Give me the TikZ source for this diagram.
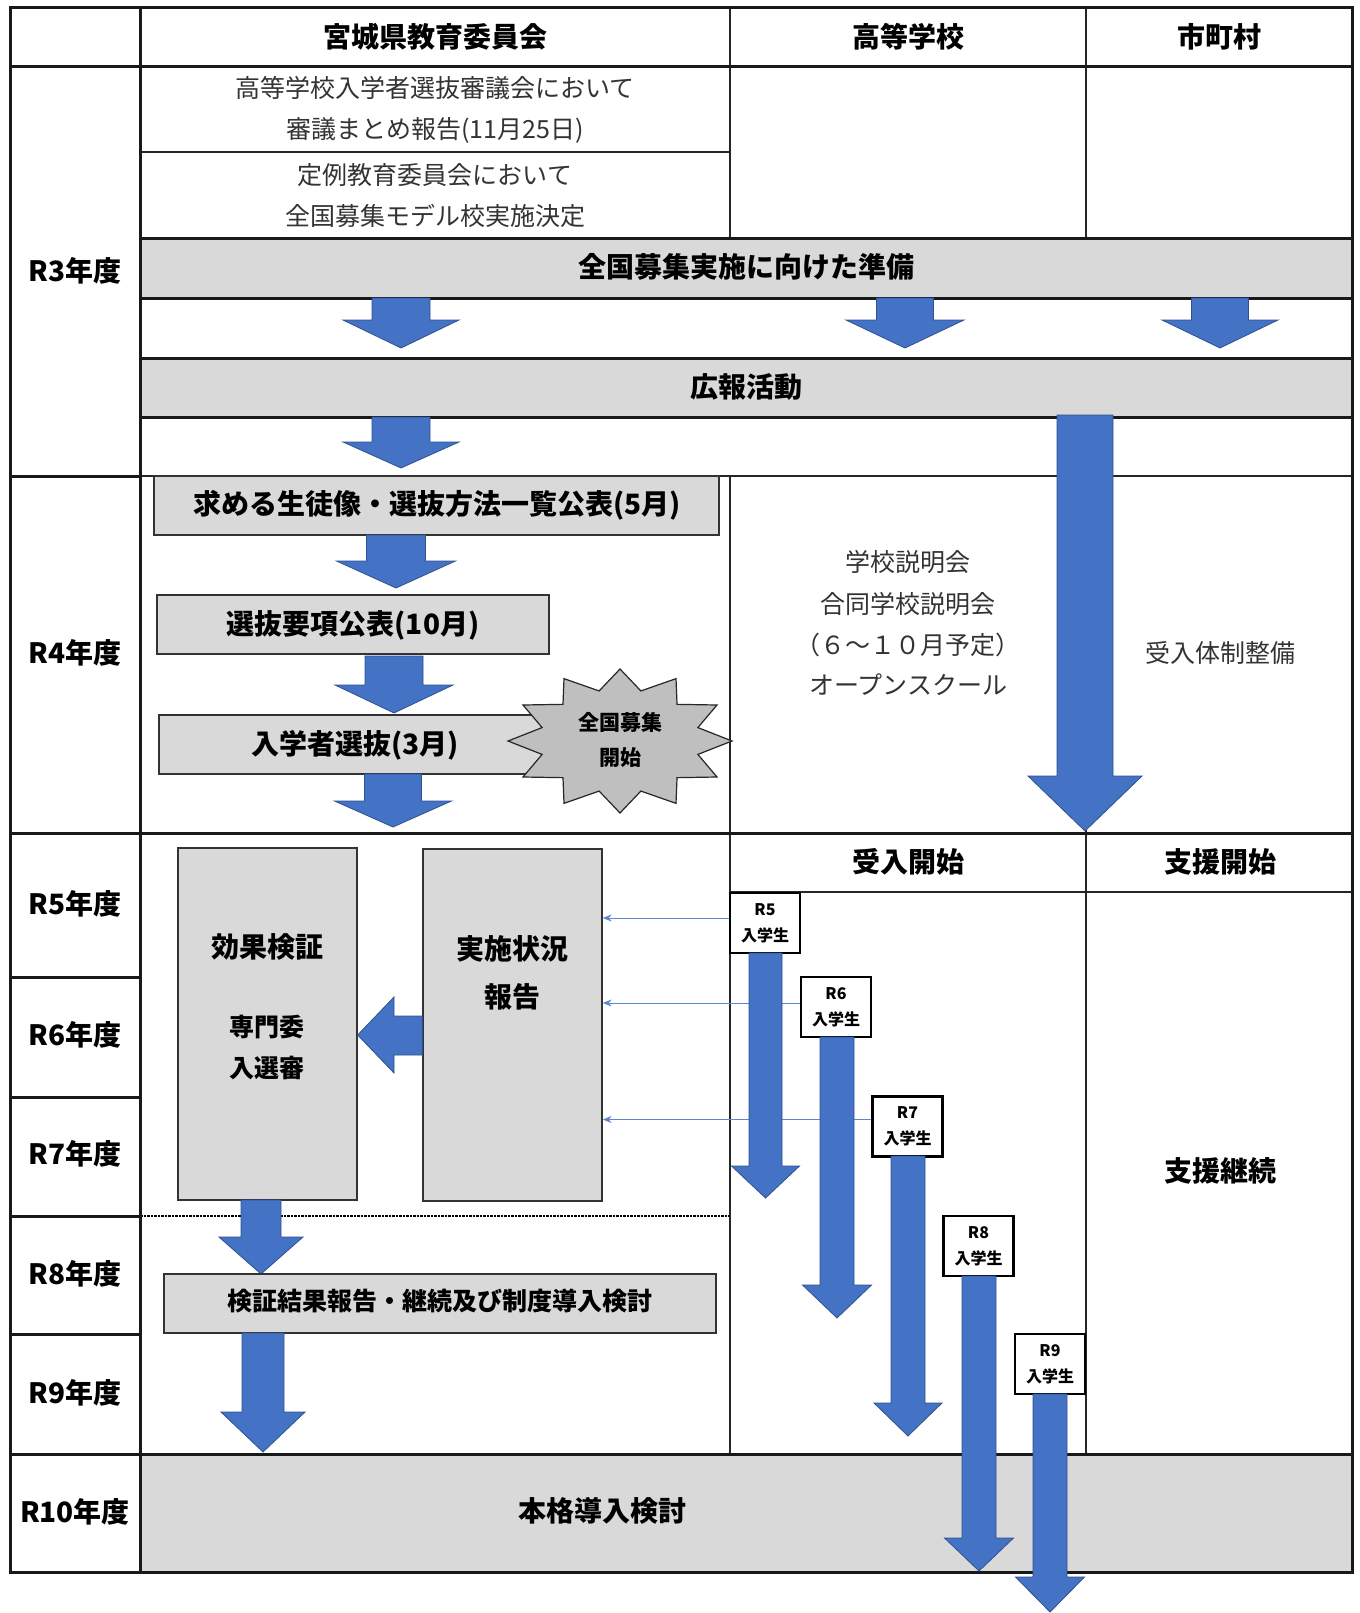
\documentclass[tikz,border=0pt]{standalone}
\usepackage{fontspec}
\setmainfont{Noto Sans CJK JP}
\usetikzlibrary{arrows.meta}
\definecolor{bandgray}{HTML}{D9D9D9}
\definecolor{stargray}{HTML}{BFBFBF}
\definecolor{arrowblue}{HTML}{4472C4}
\definecolor{arrowedge}{HTML}{2F528F}
\tikzset{
 thickln/.style={line width=3pt, draw=black!90},
 thinln/.style={line width=1.3pt, draw=black!85},
 graybox/.style={draw=black!80, fill=bandgray, line width=1.3pt, inner sep=0pt},
 blockarrow/.style={fill=arrowblue, draw=arrowedge, line width=0.8pt},
 hb/.style={font=\bfseries\fontsize{28}{33}\selectfont, inner sep=0pt},
 mb/.style={font=\bfseries\fontsize{25}{30}\selectfont, inner sep=0pt},
 rg/.style={font=\fontsize{25}{30}\selectfont, text=black!80, inner sep=0pt},
 stud/.style={draw=black, line width=2.2pt, fill=white, minimum width=70pt, minimum height=60pt, inner sep=0pt, align=center, font=\bfseries\fontsize{16}{26}\selectfont},
 thinarrow/.style={draw=arrowblue!85, line width=1pt, -{Stealth[length=9pt,width=7pt]}},
 starstyle/.style={draw=black!85, fill=stargray, line width=1.2pt},
}
\newcommand{\barrow}[6]{%
 \filldraw[blockarrow] (#1-#5,#2) -- (#1+#5,#2) -- (#1+#5,#3) -- (#1+#6,#3) -- (#1,#4) -- (#1-#6,#3) -- (#1-#5,#3) -- cycle;}
\begin{document}
\begin{tikzpicture}[x=1pt,y=-1pt]
\useasboundingbox (0,0) rectangle (1359,1613);
\fill[white] (0,0) rectangle (1359,1613);
% bands
\fill[bandgray] (140,239) rectangle (1352,298);
\fill[bandgray] (140,358) rectangle (1352,417);
\fill[bandgray] (140,1454) rectangle (1352,1572);
% grid lines
\draw[thinln] (730,8) -- (730,239);
\draw[thinln] (1086,8) -- (1086,239);
\draw[thinln] (730,476) -- (730,1454);
\draw[thinln] (1086,476) -- (1086,1454);
\draw[thinln] (140,152) -- (730,152);
\draw[thinln] (140,476) -- (1352,476);
\draw[line width=2pt, draw=black!85] (730,892) -- (1352,892);
\draw[line width=2pt, dashed, dash pattern=on 2.5pt off 1pt] (140,1216) -- (730,1216);
\draw[thickln] (10,67) -- (1352,67);
\draw[thickln] (140,239) -- (1352,239);
\draw[thickln] (140,298) -- (1352,298);
\draw[thickln] (140,358) -- (1352,358);
\draw[thickln] (140,417) -- (1352,417);
\draw[thickln] (10,833) -- (1352,833);
\draw[thickln] (10,1454) -- (1352,1454);
\foreach \yy in {476,977,1097,1216,1334} \draw[thickln] (10,\yy) -- (140,\yy);
\draw[thickln] (140,8) -- (140,1572);
\draw[thickln] (10,8) rectangle (1352,1572);
% header
\node[hb] (h1) at (435,37) {宮城県教育委員会};
\node[hb] (h2) at (908,37) {高等学校};
\node[hb] (h3) at (1219,37) {市町村};
% labels
\node[hb] (l3) at (75,271) {R3年度};
\node[hb] (l4) at (75,653) {R4年度};
\node[hb] (l5) at (75,904) {R5年度};
\node[hb] (l6) at (75,1035) {R6年度};
\node[hb] (l7) at (75,1154) {R7年度};
\node[hb] (l8) at (75,1274) {R8年度};
\node[hb] (l9) at (75,1393) {R9年度};
\node[hb] (l10) at (75,1512) {R10年度};
% R3
\node[rg] (t1) at (435,88) {高等学校入学者選抜審議会において};
\node[rg] (t2) at (435,130) {審議まとめ報告(11月25日)};
\node[rg] (t3) at (435,175) {定例教育委員会において};
\node[rg] (t4) at (435,216) {全国募集モデル校実施決定};
\node[hb] (band1) at (746,267) {全国募集実施に向けた準備};
\node[hb] (band2) at (746,387) {広報活動};
\barrow{401}{298}{320}{348}{29}{58}
\barrow{905}{298}{320}{348}{28.5}{59}
\barrow{1220}{298}{320}{348}{28.5}{58}
\barrow{401}{417}{442}{468}{29}{58}
% big arrow
\barrow{1085}{415}{776}{831}{28}{57}
% R4 left
\node[graybox, minimum width=565pt, minimum height=59pt] (k1) at (436.5,505.5) {};
\node[hb] (k1t) at (437,505) {求める生徒像・選抜方法一覧公表(5月)};
\barrow{396}{535}{561}{588}{29.5}{59.5}
\node[graybox, minimum width=392pt, minimum height=59pt] (k2) at (353,624.5) {};
\node[hb] (k2t) at (353,625) {選抜要項公表(10月)};
\barrow{394}{656}{685}{713}{29}{59}
\node[graybox, minimum width=441pt, minimum height=59pt] (k3) at (379.5,744.5) {};
\node[hb] (k3t) at (355,745) {入学者選抜(3月)};
\barrow{393}{774}{801}{827}{28.5}{58.5}
\coordinate (starc) at (620,741);
\draw[starstyle] plot[samples at={0,...,23}, variable=\k] ({620+112*cos(90+15*\k)*(1-0.28*mod(\k,2))},{741-72*sin(90+15*\k)*(1-0.28*mod(\k,2))}) -- cycle;
\node[font=\bfseries\fontsize{21}{25}\selectfont, inner sep=0pt] (s1) at (620,723) {全国募集};
\node[font=\bfseries\fontsize{21}{25}\selectfont, inner sep=0pt] (s2) at (620,758) {開始};
% R4 right
\node[rg] (hs1) at (908,562) {学校説明会};
\node[rg] (hs2) at (908,604) {合同学校説明会};
\node[rg] (hs3) at (908,645) {（６～１０月予定）};
\node[rg] (hs4) at (908,685) {オープンスクール};
\node[rg] (mu1) at (1220,653) {受入体制整備};
% R5+
\node[hb] (u1) at (908,862) {受入開始};
\node[hb] (u2) at (1220,862) {支援開始};
\node[hb] (u3) at (1220,1171) {支援継続};
\node[graybox, minimum width=179pt, minimum height=352pt] (eff) at (267.5,1024) {};
\node[hb] (e1) at (267,947) {効果検証};
\node[mb] (e2) at (267,1027) {専門委};
\node[mb] (e3) at (267,1068) {入選審};
\node[graybox, minimum width=179pt, minimum height=352pt] (rep) at (512.5,1025) {};
\node[hb] (r1) at (512,949) {実施状況};
\node[hb] (r2) at (512,997) {報告};
\filldraw[blockarrow] (rep.west |- 0,1016) -- (394,1016) -- (394,997) -- (eff.east |- 0,1035) -- (394,1073) -- (394,1055) -- (rep.west |- 0,1055) -- cycle;
\barrow{261}{1200}{1237}{1274}{20}{42}
\node[graybox, minimum width=552pt, minimum height=59pt] (ver) at (440,1303.5) {};
\node[mb] (vert) at (440,1301) {検証結果報告・継続及び制度導入検討};
\barrow{263}{1333}{1412}{1452}{21}{42}
\node[hb] (fin) at (602,1511) {本格導入検討};
% students
\node[stud] (s5) at (765,923) {R5\\入学生};
\node[stud] (s6) at (836,1007) {R6\\入学生};
\node[stud] (s7) at (907.5,1126.5) {R7\\入学生};
\draw[thinarrow] ([yshift=5pt]s5.west) -- ([yshift=5pt]s5.west -| rep.east);
\draw[thinarrow] ([yshift=4pt]s6.west) -- ([yshift=4pt]s6.west -| rep.east);
\draw[thinarrow] ([yshift=7pt]s7.west) -- ([yshift=7pt]s7.west -| rep.east);
\node[stud] (s8) at (978.5,1246) {R8\\入学生};
\node[stud] (s9) at (1050,1364) {R9\\入学生};
\barrow{765.5}{953}{1166}{1198}{16.5}{34}
\barrow{837}{1037}{1285}{1318}{17}{34.5}
\barrow{908}{1156}{1403}{1436}{17}{34}
\barrow{979}{1276}{1538}{1571}{17}{34.5}
\barrow{1050}{1394}{1577}{1612}{17}{34.5}
\end{tikzpicture}
\end{document}
